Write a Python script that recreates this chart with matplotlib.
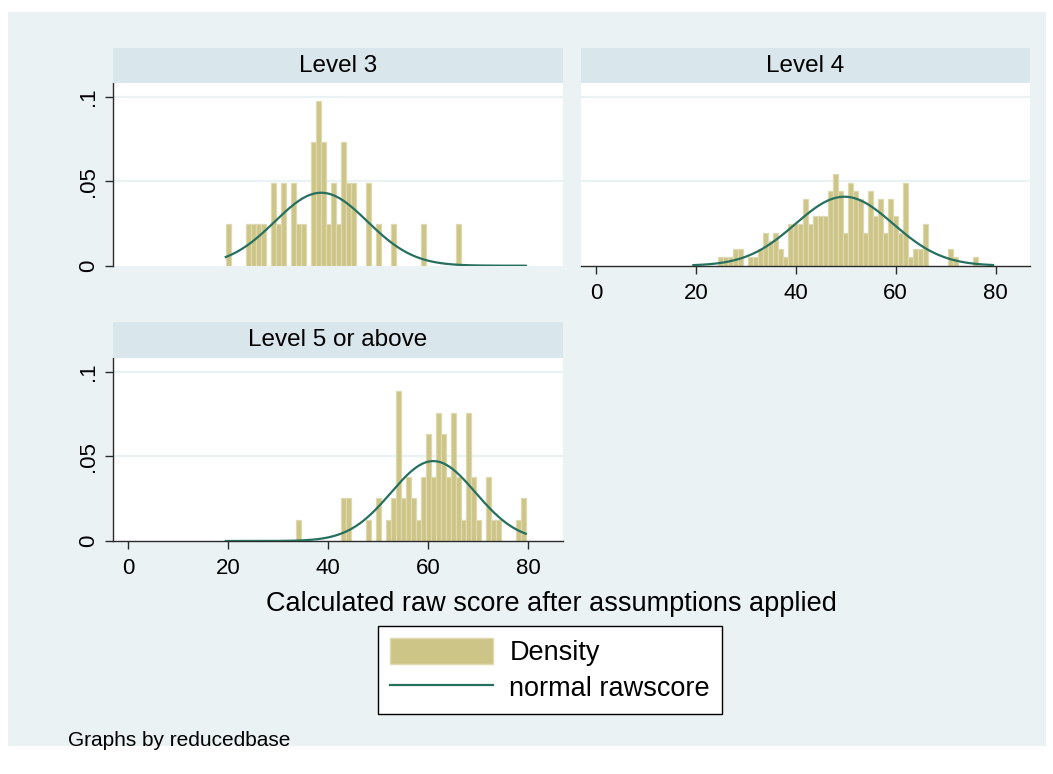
import numpy as np
import matplotlib
matplotlib.use("Agg")
import matplotlib.pyplot as plt
from matplotlib.patches import Patch, Rectangle
from matplotlib.lines import Line2D

plt.rcParams['font.family'] = ['Liberation Sans', 'DejaVu Sans']

# ---- data (discrete histogram: integer raw scores and their frequencies) ----
panel_titles = ["Level 3", "Level 4", "Level 5 or above"]

level3_scores = [20, 24, 25, 26, 27, 29, 30, 31, 33, 34, 35, 37, 38, 39, 40, 41, 42, 43,
                 44, 45, 48, 50, 53, 59, 66]
level3_counts = [1, 1, 1, 1, 1, 2, 1, 2, 2, 1, 1, 3, 4, 3, 1, 2, 1, 3,
                 2, 2, 2, 1, 1, 1, 1]

level4_scores = [25, 26, 27, 28, 29, 31, 32, 33, 34, 35, 36, 37, 38, 39, 40, 41, 42, 43,
                 44, 45, 46, 47, 48, 49, 50, 51, 52, 53, 54, 55, 56, 57, 58, 59, 60, 61,
                 62, 63, 64, 65, 66, 71, 72, 76]
level4_counts = [1, 1, 1, 2, 2, 1, 1, 2, 4, 3, 4, 2, 1, 5, 5, 5, 8, 5,
                 6, 6, 6, 9, 11, 9, 4, 10, 9, 8, 4, 9, 6, 8, 4, 8, 6, 4,
                 10, 1, 2, 2, 5, 2, 1, 1]

level5_scores = [34, 43, 44, 48, 50, 52, 53, 54, 55, 56, 57, 58, 59, 60, 61, 62, 63, 64,
                 65, 66, 67, 68, 69, 70, 72, 73, 74, 78, 79]
level5_counts = [1, 2, 2, 1, 2, 1, 2, 7, 2, 3, 2, 1, 3, 5, 3, 6, 5, 3,
                 6, 3, 1, 6, 3, 1, 3, 1, 1, 1, 2]

x_ticks = [0, 20, 40, 60, 80]
y_ticks = [0, 0.05, 0.1]
y_tick_labels = ["0", ".05", ".1"]
x_title = "Calculated raw score after assumptions applied"
legend_labels = ["Density", "normal rawscore"]
note_text = "Graphs by reducedbase"

# ---- style ----
W, H = 1053, 774
BG = '#EAF2F3'
STRIP = '#D9E6EB'
FILL = '#CDC487'
EDGE = '#DED9AE'
LINE = '#25705F'
AX = '#2B2B2B'


def fx(x):
    return x / W


def fy(y):
    return 1 - y / H


def rect(l, r, t, b):
    return [fx(l), fy(b), (r - l) / W, (b - t) / H]


fig = plt.figure(figsize=(W / 100, H / 100), dpi=100)
fig.patch.set_facecolor('white')
fig.patches.append(Rectangle((fx(8), fy(746)), (1046 - 8) / W, (746 - 12) / H,
                             transform=fig.transFigure, facecolor=BG,
                             edgecolor='none', zorder=-1))

panels = [
    (level3_scores, level3_counts, (113.3, 562.7, 83.0, 265.7), (48, 83.0), True, False),
    (level4_scores, level4_counts, (581.0, 1030.0, 83.0, 265.7), (48, 83.0), False, True),
    (level5_scores, level5_counts, (113.3, 562.7, 358.3, 541.0), (322, 358.3), True, True),
]

all_scores = level3_scores + level4_scores + level5_scores
xmin_rng = min(all_scores) - 0.5
xmax_rng = max(all_scores) + 0.5

for (scores, counts, (l, r, t, b), (st, sb), show_y, show_x), title in zip(panels, panel_titles):
    ax = fig.add_axes(rect(l, r, t, b))
    ax.set_facecolor('white')
    s = np.array(scores, dtype=float)
    c = np.array(counts, dtype=float)
    n = c.sum()
    dens = c / n
    for g in (0.05, 0.1):
        ax.axhline(g, color=BG, lw=1.6, zorder=0.5)
    ax.bar(s, dens, width=1.0, align='center', color=FILL, edgecolor=EDGE,
           linewidth=0.9, zorder=2)
    mu = (s * c).sum() / n
    sd = np.sqrt(((s - mu) ** 2 * c).sum() / (n - 1))
    xx = np.linspace(xmin_rng, xmax_rng, 400)
    yy = np.exp(-0.5 * ((xx - mu) / sd) ** 2) / (sd * np.sqrt(2 * np.pi))
    ax.plot(xx, yy, color=LINE, lw=1.6, zorder=3)
    ax.set_xlim(-3, 86.9)
    ax.set_ylim(0, 0.108)
    for sp in ('top', 'right'):
        ax.spines[sp].set_visible(False)
    ax.spines['left'].set_visible(show_y)
    ax.spines['bottom'].set_visible(show_x)
    for sp in ('left', 'bottom'):
        ax.spines[sp].set_color(AX)
        ax.spines[sp].set_linewidth(1.0)
    if show_y:
        ax.set_yticks(y_ticks)
        ax.set_yticklabels(y_tick_labels, rotation=90, va='center')
        ax.tick_params(axis='y', direction='out', length=5.5, width=1.0, color=AX,
                       labelsize=16, pad=4.5)
    else:
        ax.set_yticks([])
    if show_x:
        ax.set_xticks(x_ticks)
        ax.set_xticklabels([str(v) for v in x_ticks])
        ax.tick_params(axis='x', direction='out', length=5.5, width=1.0, color=AX,
                       labelsize=16, pad=7)
    else:
        ax.set_xticks([])
    # strip
    sax = fig.add_axes(rect(l, r, st, sb))
    sax.set_facecolor(STRIP)
    sax.set_xticks([])
    sax.set_yticks([])
    for sp in sax.spines.values():
        sp.set_visible(False)
    sax.text(0.5, 0.5, title, ha='center', va='center', fontsize=17.5,
             transform=sax.transAxes)

fig.text(fx(551), fy(604), x_title, ha='center', va='center', fontsize=19.5)
fig.text(fx(68), fy(740), note_text, ha='left', va='center', fontsize=15)

handles = [Patch(facecolor=FILL, edgecolor=EDGE, linewidth=1.0),
           Line2D([], [], color=LINE, lw=1.6)]
leg = fig.legend(handles=handles, labels=legend_labels, loc='center',
                 bbox_to_anchor=(fx(550), fy(670)), frameon=True, fancybox=False,
                 edgecolor='black', framealpha=1, facecolor='white', fontsize=19.5,
                 handlelength=3.8, handleheight=1.1, handletextpad=0.6,
                 borderpad=0.45, labelspacing=0.3)
leg.get_frame().set_linewidth(1.0)

fig.savefig('out.png', dpi=100, facecolor='white')
